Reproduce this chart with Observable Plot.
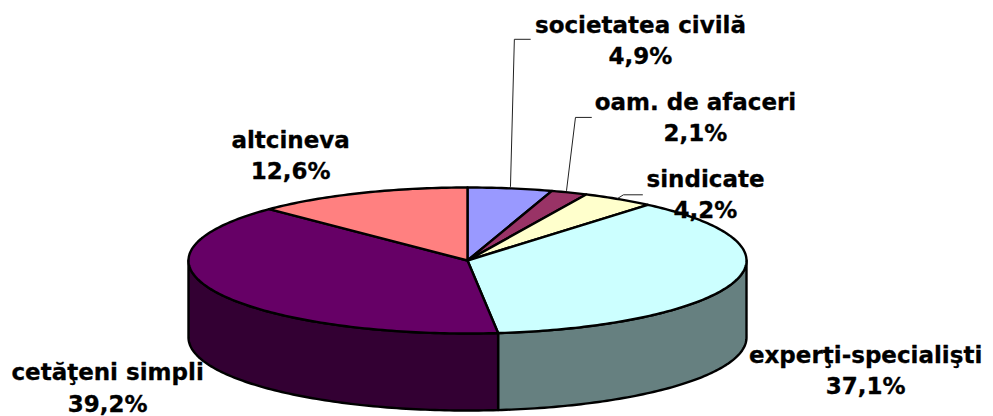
<!DOCTYPE html>
<html>
<head>
<meta charset="utf-8">
<script src="https://cdn.jsdelivr.net/npm/d3@7"></script>
<script src="https://cdn.jsdelivr.net/npm/@observablehq/plot@0.6"></script>
<style>html,body{margin:0;padding:0;background:#fff}svg{display:block}</style>
</head>
<body>
<div id="chart"></div>
<script>
const names = ["societatea civilă", "oam. de afaceri", "sindicate", "experţi-specialişti", "cetăţeni simpli", "altcineva"];
const values = [4.9, 2.1, 4.2, 37.1, 39.2, 12.6];
const valueLabels = ["4,9%", "2,1%", "4,2%", "37,1%", "39,2%", "12,6%"];
const topColors = ["#9999ff", "#993366", "#ffffcc", "#ccffff", "#660066", "#ff8080"];
const sideColors = ["#4d4d80", "#4d1a33", "#808066", "#668080", "#330033", "#804040"];

// Layout, in units of the pie's radius
const labelX = [0.62, 0.817, 0.853, 1.427, -1.29, -0.634];
const labelY = [3.04, 1.985, 0.93, -1.48, -1.72, 1.465];
const leaderSeries = [
  {id: 0, x: [0.154, 0.168, 0.225], y: [1.014, 3.03, 3.03]},
  {id: 1, x: [0.355, 0.387, 0.444], y: [0.96, 1.96, 1.96]},
  {id: 2, x: [0.538, 0.559, 0.627], y: [0.85, 0.9, 0.9]}
];
const depth = 1.055;

const total = d3.sum(values);
const edges = d3.cumsum(values).map(v => v / total * 360);
const starts = [0, ...edges.slice(0, -1)];
const rad = d => d * Math.PI / 180;
const arc = (a, b) => {
  const out = [];
  for (let t = a; t < b; t += 1) out.push(t);
  out.push(b);
  return out;
};

const topPoints = names.flatMap((name, i) => {
  const pts = [{x: 0, y: 0}, ...arc(starts[i], edges[i]).map(t => ({x: Math.sin(rad(t)), y: Math.cos(rad(t))})), {x: 0, y: 0}];
  return pts.map(p => ({...p, name, color: topColors[i]}));
});

const sidePoints = names.flatMap((name, i) => {
  const a = Math.max(starts[i], 90), b = Math.min(edges[i], 270);
  if (a >= b) return [];
  const ts = arc(a, b);
  const upper = ts.map(t => ({x: Math.sin(rad(t)), y: Math.cos(rad(t))}));
  const lower = ts.slice().reverse().map(t => ({x: Math.sin(rad(t)), y: Math.cos(rad(t)) - depth}));
  return [...upper, ...lower, upper[0]].map(p => ({...p, name, color: sideColors[i]}));
});

const leaders = leaderSeries.flatMap(l => l.x.map((x, i) => ({x, y: l.y[i], id: l.id})));
const labels = names.map((name, i) => ({text: name + "\n" + valueLabels[i], x: labelX[i], y: labelY[i]}));

const chart = Plot.plot({
  width: 993,
  height: 416,
  margin: 0,
  x: {axis: null, domain: [-1, 1], range: [188, 746]},
  y: {axis: null, domain: [-1, 1], range: [333, 187]},
  color: {type: "identity"},
  marks: [
    Plot.line(sidePoints, {x: "x", y: "y", z: "name", fill: "color", stroke: "#000", strokeWidth: 2.4, curve: "linear", strokeLinejoin: "round"}),
    Plot.line(topPoints, {x: "x", y: "y", z: "name", fill: "color", stroke: "#000", strokeWidth: 2.4, curve: "linear", strokeLinejoin: "round"}),
    Plot.line(leaders, {x: "x", y: "y", z: "id", stroke: "#222", strokeWidth: 1, curve: "linear"}),
    Plot.text(labels, {x: "x", y: "y", text: "text", fontFamily: "DejaVu Sans", fontWeight: "bold", fontSize: 23, lineHeight: 1.35, fill: "#000", stroke: "#000", strokeWidth: 0.3, textAnchor: "middle", lineAnchor: "middle"})
  ]
});
document.getElementById("chart").append(chart);
</script>
</body>
</html>
